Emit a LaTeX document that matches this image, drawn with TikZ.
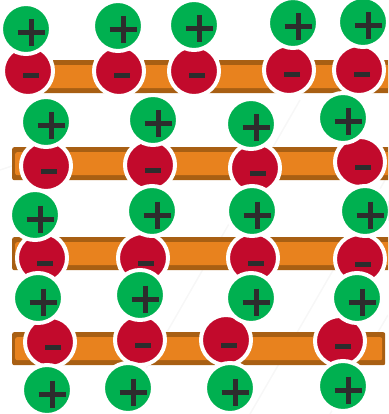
\documentclass[tikz,border=0pt]{standalone}
\usepackage{xcolor}
\usepackage{tikz}

\definecolor{iongreen}{HTML}{00B050}
\definecolor{ionred}{HTML}{C20A2C}
\definecolor{barorange}{HTML}{E8821E}
\definecolor{barbrown}{HTML}{A85F13}
\definecolor{signgray}{HTML}{2D2D2D}

\begin{document}
\begin{tikzpicture}[
    x=1pt, y=-1pt,
    signline/.style={draw=signgray, line width=5pt, line cap=butt},
    bar/.style={
        fill=barbrown, draw=none, rounded corners=2pt,
        anchor=north west, minimum height=33pt, inner sep=0pt,
        path picture={\fill[barorange]
            ([shift={(3pt,-5pt)}]path picture bounding box.north west) rectangle
            ([shift={(-3pt,5pt)}]path picture bounding box.south east);}
    },
    cation/.style={
        circle, fill=iongreen, draw=white, line width=4pt,
        minimum size=50pt, inner sep=0pt,
        path picture={
            \draw[signline] ([shift={(-8.5pt,-4pt)}]path picture bounding box.center) -- ++(27pt,0pt);
            \draw[signline] ([shift={(5pt,9.5pt)}]path picture bounding box.center) -- ++(0pt,-27pt);}
    },
    anion/.style={
        circle, fill=ionred, draw=white, line width=4pt,
        minimum size=50pt, inner sep=0pt,
        path picture={
            \draw[signline] ([shift={(-5pt,-5pt)}]path picture bounding box.center) -- ++(16pt,0pt);}
    },
    haze/.style={draw=black!3, line width=1.5pt},
]

\clip (0,0) rectangle (388,414);

% ── faint background ──
\draw[haze] (250,414) -- (388,175);
\draw[haze] (330,414) -- (388,315);
\draw[haze] (120,414) -- (300,100);
\draw[haze] (0,170) -- (60,150);

% ── bars ──
\node[bar, minimum width=380pt] (bar1) at (30,60) {};
\node[bar, minimum width=390pt] (bar2) at (12,147) {};
\node[bar, minimum width=390pt] (bar3) at (12,237) {};
\node[bar, minimum width=373pt] (bar4) at (12,332) {};

% ── negative ions ──
\node[anion] (n11) at (28,71) {};
\node[anion] (n12) at (119,71) {};
\node[anion] (n13) at (194,71) {};
\node[anion] (n14) at (289,70) {};
\node[anion] (n15) at (359,70) {};

\node[anion] (n21) at (46,166) {};
\node[anion] (n22) at (150,165) {};
\node[anion] (n23) at (255,168) {};
\node[anion] (n24) at (360,162) {};

\node[anion] (n31) at (42,258) {};
\node[anion] (n32) at (143,258) {};
\node[anion] (n33) at (253,258) {};
\node[anion] (n34) at (360,259) {};

\node[anion] (n41) at (50,342) {};
\node[anion] (n42) at (140,340) {};
\node[anion] (n43) at (226,340) {};
\node[anion] (n44) at (340,341) {};

% ── positive ions ──
\node[cation] (p11) at (26,29) {};
\node[cation] (p12) at (118,26) {};
\node[cation] (p13) at (194,25) {};
\node[cation] (p14) at (293,23) {};
\node[cation] (p15) at (363,22) {};

\node[cation] (p21) at (46,122) {};
\node[cation] (p22) at (153,120) {};
\node[cation] (p23) at (251,124) {};
\node[cation] (p24) at (343,118) {};

\node[cation] (p31) at (35,215) {};
\node[cation] (p32) at (152,211) {};
\node[cation] (p33) at (252,211) {};
\node[cation] (p34) at (365,211) {};

\node[cation] (p41) at (38,298) {};
\node[cation] (p42) at (140,295) {};
\node[cation] (p43) at (251,298) {};
\node[cation] (p44) at (357,298) {};

\node[cation] (p51) at (47,390) {};
\node[cation] (p52) at (128,388) {};
\node[cation] (p53) at (230,388) {};
\node[cation] (p54) at (343,386) {};

\end{tikzpicture}
\end{document}
